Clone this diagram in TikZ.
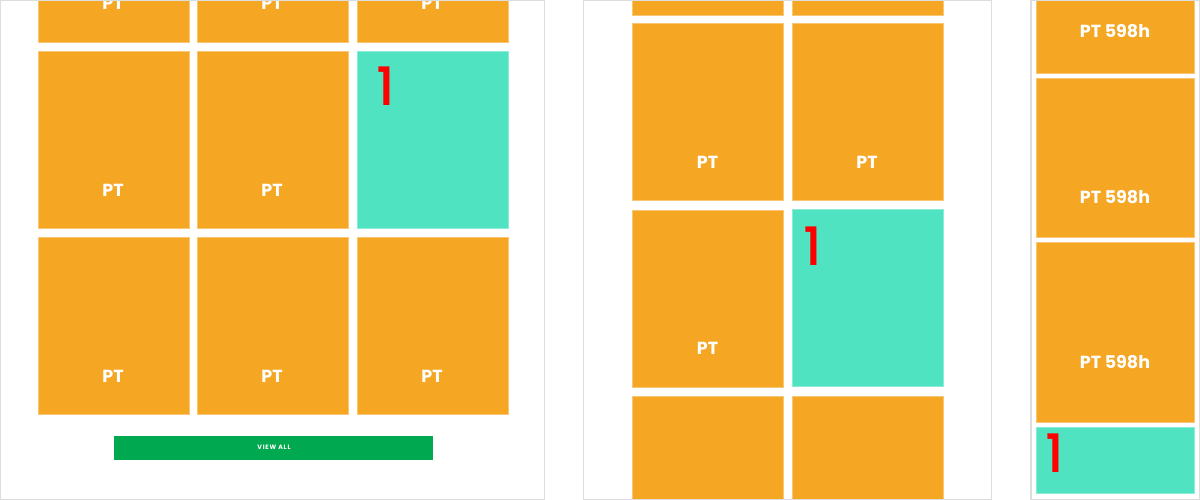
\documentclass[tikz,border=0pt]{standalone}
\usepackage{fontspec}
\setmainfont{Poppins}
\newfontfamily\onefont{Poppins Medium}
\definecolor{orng}{HTML}{F5A623}
\definecolor{orngedge}{HTML}{F8C675}
\definecolor{teal}{HTML}{50E3C2}
\definecolor{tealedge}{HTML}{8CEDD6}
\definecolor{btngreen}{HTML}{00A94F}
\definecolor{redone}{HTML}{FF0000}
\definecolor{frame}{HTML}{DDDDDD}
\begin{document}
\begin{tikzpicture}[x=1pt,y=-1pt,
  otile/.style={draw=orngedge, line width=0.6pt, fill=orng, inner sep=0pt, outer sep=0pt, anchor=north west},
  ttile/.style={draw=tealedge, line width=0.6pt, fill=teal, inner sep=0pt, outer sep=0pt, anchor=north west},
  ptlabel/.style={text=white, font=\bfseries\fontsize{17.5}{19}\selectfont, anchor=base, inner sep=0pt},
  onelabel/.style={text=redone, font=\onefont\fontsize{53}{55}\selectfont, anchor=base west, inner sep=0pt},
  panel/.style={draw=frame, line width=1.2pt},
  btn/.style={fill=btngreen, draw=none, inner sep=0pt, outer sep=0pt, anchor=north west, minimum width=319pt, minimum height=23.5pt},
  btntext/.style={text=white, font=\bfseries\fontsize{6.3}{7}\selectfont\addfontfeature{LetterSpace=12}, inner sep=0pt}]
\useasboundingbox (0,0) rectangle (1200,500);
\clip (0,0) rectangle (1200,500);

% ---------- left panel ----------
\node[otile, minimum width=151pt, minimum height=72pt]  (l00) at (38,-30) {};
\node[otile, minimum width=151pt, minimum height=72pt]  (l01) at (197,-30) {};
\node[otile, minimum width=151pt, minimum height=72pt]  (l02) at (357,-30) {};
\node[otile, minimum width=151pt, minimum height=177pt] (l10) at (38,51) {};
\node[otile, minimum width=151pt, minimum height=177pt] (l11) at (197,51) {};
\node[ttile, minimum width=151pt, minimum height=177pt] (l12) at (357,51) {};
\node[otile, minimum width=151pt, minimum height=177pt] (l20) at (38,237) {};
\node[otile, minimum width=151pt, minimum height=177pt] (l21) at (197,237) {};
\node[otile, minimum width=151pt, minimum height=177pt] (l22) at (357,237) {};

\node[ptlabel] (tl00) at (113,9.5) {PT};
\node[ptlabel] (tl01) at (272,9.5) {PT};
\node[ptlabel] (tl02) at (432,9.5) {PT};
\node[ptlabel] (tl10) at (113,196.5) {PT};
\node[ptlabel] (tl11) at (272,196.5) {PT};
\node[ptlabel] (tl20) at (113,382.5) {PT};
\node[ptlabel] (tl21) at (272,382.5) {PT};
\node[ptlabel] (tl22) at (432,382.5) {PT};
\node[onelabel] (one1) at (376,106) {1};

\node[btn] (viewall) at (114,436) {};
\node[btntext] (viewalltext) at ([xshift=0.5pt]viewall.center) {VIEW ALL};

\draw[panel] (0.6,0.6) rectangle (544.6,499.4);

% ---------- middle panel ----------
\node[otile, minimum width=151pt, minimum height=165pt] (m00) at (632,-150) {};
\node[otile, minimum width=151pt, minimum height=165pt] (m01) at (792,-150) {};
\node[otile, minimum width=151pt, minimum height=176.5pt] (m10) at (632,23.8) {};
\node[otile, minimum width=151pt, minimum height=176.5pt] (m11) at (792,23.8) {};
\node[otile, minimum width=151pt, minimum height=177pt] (m20) at (632,209.8) {};
\node[ttile, minimum width=151pt, minimum height=177pt] (m21) at (792,209.4) {};
\node[otile, minimum width=151pt, minimum height=177pt] (m30) at (632,395.8) {};
\node[otile, minimum width=151pt, minimum height=177pt] (m31) at (792,395.8) {};

\node[ptlabel] (tm10) at (707.5,168.3) {PT};
\node[ptlabel] (tm11) at (867,168.3) {PT};
\node[ptlabel] (tm20) at (707.5,354.3) {PT};
\node[onelabel] (one2) at (803,265) {1};

\draw[panel] (583.8,0.6) rectangle (991.5,499.4);

% ---------- right panel ----------
\node[otile, minimum width=158.5pt, minimum height=177pt] (r0) at (1036,-104) {};
\node[otile, minimum width=158.5pt, minimum height=158.5pt] (r1) at (1036,78.8) {};
\node[otile, minimum width=158.5pt, minimum height=180pt] (r2) at (1036,242.3) {};
\node[ttile, minimum width=158.5pt, minimum height=66pt] (r3) at (1036,427.7) {};

\node[ptlabel] (tr0) at (1115,37.3) {PT 598h};
\node[ptlabel] (tr1) at (1115,204) {PT 598h};
\node[ptlabel] (tr2) at (1115,368.3) {PT 598h};
\node[onelabel] (one3) at (1045,472) {1};

\draw[panel] (1031,0.6) rectangle (1199.4,499.4);
\end{tikzpicture}
\end{document}
